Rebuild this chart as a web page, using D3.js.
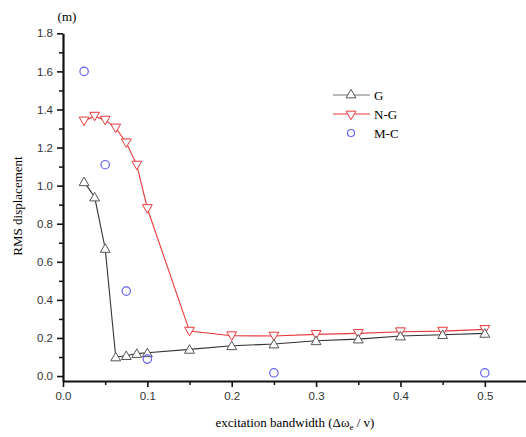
<!DOCTYPE html>
<html>
<head>
<meta charset="utf-8">
<script src="https://cdn.jsdelivr.net/npm/d3@7"></script>
<style>
  body { margin: 0; background: #fff; }
  .tick text { font-family: "Liberation Sans", Arial, sans-serif; font-size: 11.5px; fill: #333; }
  .title { font-family: "Liberation Serif", "Times New Roman", serif; font-size: 13px; fill: #000; }
</style>
</head>
<body>
<div id="chart"></div>
<script>
// data
var bandwidth = [0.025, 0.0375, 0.05, 0.0625, 0.075, 0.0875, 0.1, 0.15, 0.2, 0.25, 0.3, 0.35, 0.4, 0.45, 0.5];
var gaussian = [1.02, 0.94, 0.67, 0.10, 0.107, 0.118, 0.122, 0.14, 0.159, 0.168, 0.185, 0.194, 0.21, 0.217, 0.224];
var nonGaussian = [1.34, 1.365, 1.344, 1.303, 1.225, 1.108, 0.88, 0.236, 0.212, 0.21, 0.219, 0.224, 0.233, 0.236, 0.245];
var mcX = [0.025, 0.05, 0.075, 0.1, 0.25, 0.5];
var mcY = [1.6, 1.11, 0.446, 0.089, 0.017, 0.017];
var xTicks = [0.0, 0.1, 0.2, 0.3, 0.4, 0.5];
var yTicks = [0.0, 0.2, 0.4, 0.6, 0.8, 1.0, 1.2, 1.4, 1.6, 1.8];

var width = 526, height = 437;
var svg = d3.select("#chart").append("svg")
    .attr("width", width)
    .attr("height", height);

var x = d3.scaleLinear().domain([0, 0.55]).range([63, 527]);
var y = d3.scaleLinear().domain([-0.026, 1.8]).range([381, 33.3]);

// minor ticks
svg.append("g")
    .attr("transform", "translate(0,381)")
    .call(d3.axisBottom(x).tickValues(d3.range(0.05, 0.55, 0.1)).tickSize(4).tickFormat(""))
    .call(g => g.select(".domain").remove())
    .selectAll("line").attr("stroke", "#111").attr("stroke-width", 1.5);
svg.append("g")
    .attr("transform", "translate(63,0)")
    .call(d3.axisLeft(y).tickValues(d3.range(0.1, 1.8, 0.2)).tickSize(4).tickFormat(""))
    .call(g => g.select(".domain").remove())
    .selectAll("line").attr("stroke", "#111").attr("stroke-width", 1.5);

// major axes
var xAxis = svg.append("g")
    .attr("transform", "translate(0,381)")
    .call(d3.axisBottom(x).tickValues(xTicks).tickSize(6).tickPadding(5).tickSizeOuter(0).tickFormat(d3.format(".1f")));
xAxis.select(".domain").attr("stroke", "#111").attr("stroke-width", 2.2);
xAxis.selectAll("line").attr("stroke", "#111").attr("stroke-width", 1.6);

var yAxis = svg.append("g")
    .attr("transform", "translate(63,0)")
    .call(d3.axisLeft(y).tickValues(yTicks).tickSize(6).tickPadding(4).tickSizeOuter(0).tickFormat(d3.format(".1f")));
yAxis.select(".domain").attr("stroke", "#111").attr("stroke-width", 2.2);
yAxis.selectAll("line").attr("stroke", "#111").attr("stroke-width", 1.6);

// titles
svg.append("text").attr("class", "title")
    .attr("x", 67).attr("y", 21).attr("text-anchor", "middle")
    .text("(m)");

svg.append("text").attr("class", "title")
    .attr("transform", "translate(22,206) rotate(-90)")
    .attr("text-anchor", "middle")
    .text("RMS displacement");

var xt = svg.append("text").attr("class", "title")
    .attr("x", 295).attr("y", 427).attr("text-anchor", "middle");
xt.append("tspan").text("excitation bandwidth (\u0394\u03c9");
xt.append("tspan").attr("dy", 3).attr("font-size", "9px").text("e");
xt.append("tspan").attr("dy", -3).text(" / v)");

// series
var ngColor = "#e8383c", gColor = "#333", mcColor = "#6464ee";
var line = d3.line().x(d => x(d[0])).y(d => y(d[1]));
var ngData = bandwidth.map((b, i) => [b, nonGaussian[i]]);
var gData = bandwidth.map((b, i) => [b, gaussian[i]]);
var mcData = mcX.map((b, i) => [b, mcY[i]]);

var triUp = d3.symbol().type(d3.symbolTriangle).size(42);

svg.append("path").datum(ngData)
    .attr("d", line).attr("fill", "none")
    .attr("stroke", ngColor).attr("stroke-width", 1.1);
svg.append("g").selectAll("path")
    .data(ngData).enter().append("path")
    .attr("d", triUp)
    .attr("transform", d => `translate(${x(d[0])},${y(d[1]) - 1}) rotate(180)`)
    .attr("fill", "#fff").attr("stroke", ngColor).attr("stroke-width", 1);

svg.append("path").datum(gData)
    .attr("d", line).attr("fill", "none")
    .attr("stroke", gColor).attr("stroke-width", 1.1);
svg.append("g").selectAll("path")
    .data(gData).enter().append("path")
    .attr("d", triUp)
    .attr("transform", d => `translate(${x(d[0])},${y(d[1]) + 1})`)
    .attr("fill", "#fff").attr("stroke", "#555").attr("stroke-width", 1);

svg.append("g").selectAll("circle")
    .data(mcData).enter().append("circle")
    .attr("cx", d => x(d[0])).attr("cy", d => y(d[1]))
    .attr("r", 4.2)
    .attr("fill", "none").attr("stroke", mcColor).attr("stroke-width", 1.2);

// legend
var legend = svg.append("g").attr("class", "legend");
var items = [
    { name: "G", color: "#777", marker: "up" },
    { name: "N-G", color: ngColor, marker: "down" },
    { name: "M-C", color: mcColor, marker: "circle" }
];
items.forEach((it, i) => {
    var ly = 95 + i * 19;
    if (it.marker !== "circle") {
        legend.append("line").attr("x1", 333).attr("x2", 370).attr("y1", ly).attr("y2", ly)
            .attr("stroke", it.color).attr("stroke-width", 1.1);
        legend.append("path").attr("d", triUp)
            .attr("transform", `translate(351,${ly}) ${it.marker === "down" ? "rotate(180)" : ""}`)
            .attr("fill", "#fff").attr("stroke", it.marker === "down" ? ngColor : "#555").attr("stroke-width", 1);
    } else {
        legend.append("circle").attr("cx", 351).attr("cy", ly).attr("r", 3.5)
            .attr("fill", "none").attr("stroke", mcColor).attr("stroke-width", 1.2);
    }
    legend.append("text").attr("class", "title")
        .attr("x", 374).attr("y", ly + 4.5)
        .text(it.name);
});
</script>
</body>
</html>
